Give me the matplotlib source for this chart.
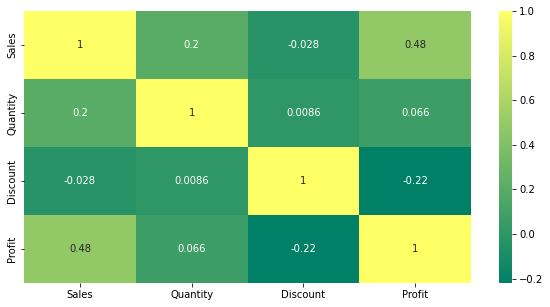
import matplotlib
matplotlib.use("Agg")
import matplotlib.pyplot as plt
import seaborn as sns
import numpy as np
import pandas as pd

labels = ["Sales", "Quantity", "Discount", "Profit"]
row_sales = [1, 0.2, -0.028, 0.48]
row_quantity = [0.2, 1, 0.0086, 0.066]
row_discount = [-0.028, 0.0086, 1, -0.22]
row_profit = [0.48, 0.066, -0.22, 1]

corr = pd.DataFrame([row_sales, row_quantity, row_discount, row_profit],
                    index=labels, columns=labels)

fig = plt.figure(figsize=(550/72, 307/72), dpi=72)
ax = fig.add_axes([24/550, 1 - 283/307, (471-24)/550, (283-11)/307])
cax = fig.add_axes([499/550, 1 - 283/307, 13/550, (283-11)/307])
sns.heatmap(corr, annot=True, cmap="summer", ax=ax, cbar_ax=cax,
            annot_kws={"fontsize": 10})
ax.tick_params(labelsize=10)
cax.tick_params(labelsize=10)
fig.savefig("out.png", dpi=72)
